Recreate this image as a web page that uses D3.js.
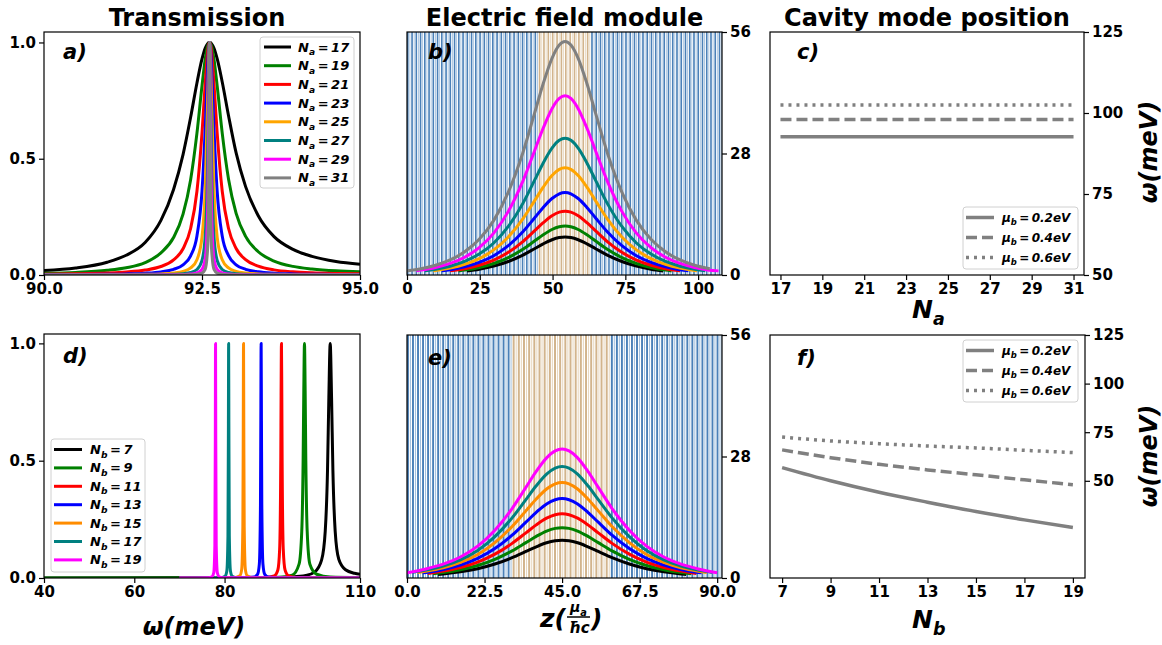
<!DOCTYPE html>
<html><head><meta charset="utf-8">
<script src="https://cdn.jsdelivr.net/npm/d3@7"></script>
<style>
body{margin:0;background:#fff;}
svg text{font-family:"DejaVu Sans",sans-serif;font-weight:bold;fill:#000;}
</style></head><body>
<svg id="chart" width="1162" height="645"></svg>
<script>
// ---------------- DATA ----------------
const colorsA = ["black","green","red","blue","orange","teal","magenta","gray"];
const naValues = [17,19,21,23,25,27,29,31];
const omegaA = [90,90.5,91,91.3,91.6,91.85,92.05,92.2,92.32,92.42,92.5,92.55,92.59,92.605,92.62,92.635,92.65,92.69,92.74,92.82,92.92,93.04,93.19,93.39,93.64,93.94,94.24,94.62,95];
const transNa17 = [0.019,0.030,0.055,0.085,0.14,0.235,0.368,0.518,0.678,0.826,0.929,0.975,0.995,0.999,1.0,0.999,0.995,0.975,0.93,0.83,0.685,0.525,0.38,0.255,0.165,0.11,0.08,0.058,0.046];
const transNa19 = [0.007,0.011,0.02,0.031,0.053,0.0953,0.161,0.262,0.41,0.61,0.813,0.927,0.986,0.996,1.0,0.996,0.986,0.927,0.813,0.61,0.412,0.265,0.166,0.1,0.06,0.037,0.026,0.018,0.014];
const transNa21 = [0.003,0.005,0.0085,0.0128,0.0212,0.0365,0.0648,0.113,0.2,0.36,0.61,0.821,0.962,0.99,1.0,0.99,0.962,0.821,0.61,0.36,0.2,0.114,0.066,0.038,0.022,0.0135,0.0092,0.0065,0.005];
const transNa23 = [0.0012,0.0018,0.0031,0.0046,0.0077,0.0135,0.0243,0.0439,0.0826,0.168,0.36,0.623,0.90,0.973,1.0,0.973,0.90,0.623,0.36,0.168,0.083,0.044,0.0245,0.0137,0.0078,0.0047,0.0032,0.0021,0.0014];
const transNa25 = [0.0004,0.0006,0.0011,0.0016,0.0027,0.0047,0.0086,0.0157,0.0303,0.0657,0.163,0.364,0.758,0.926,1.0,0.926,0.758,0.364,0.163,0.0657,0.0303,0.0157,0.0086,0.0047,0.0027,0.0016,0.0011,0.0007,0.0005];
const transNa27 = [0.0001,0.0002,0.0004,0.0006,0.0009,0.0016,0.003,0.0054,0.0106,0.0235,0.0626,0.164,0.516,0.81,1.0,0.81,0.516,0.164,0.0626,0.0235,0.0106,0.0054,0.003,0.0016,0.0009,0.0006,0.0004,0.0003,0.0002];
const transNa29 = [0.0001,0.0001,0.0001,0.0002,0.0003,0.0006,0.0011,0.002,0.004,0.0089,0.0245,0.0686,0.286,0.616,1.0,0.616,0.286,0.0686,0.0245,0.0089,0.004,0.002,0.0011,0.0006,0.0003,0.0002,0.0001,0.0001,0.0001];
const transNa31 = [0,0,0,0.0001,0.0001,0.0002,0.0004,0.0007,0.0013,0.003,0.0083,0.024,0.118,0.35,1.0,0.35,0.118,0.024,0.0083,0.003,0.0013,0.0007,0.0004,0.0002,0.0001,0.0001,0,0,0];
const ticksAx = [90.0,92.5,95.0];
const ticksAy = [0.0,0.5,1.0];

// panel b: |E| vs z for each Na  ([z, |E|])
const fieldNa17 = [[20.6,0.93],[24.8,1.34],[29.8,2.05],[34.8,3.11],[39.8,4.59],[43.8,6.06],[46.8,7.18],[49.8,8.12],[52.3,8.62],[54.3,8.75],[56.3,8.62],[58.8,8.12],[61.8,7.18],[64.8,6.06],[68.8,4.59],[73.8,3.11],[78.8,2.05],[83.8,1.34],[88.0,0.93]];
const fieldNa19 = [[17.7,0.94],[19.8,1.12],[24.8,1.73],[29.8,2.64],[34.8,4.01],[39.8,5.92],[43.8,7.82],[46.8,9.27],[49.8,10.49],[52.3,11.13],[54.3,11.3],[56.3,11.13],[58.8,10.49],[61.8,9.27],[64.8,7.82],[68.8,5.92],[73.8,4.01],[78.8,2.64],[83.8,1.73],[88.8,1.12],[90.9,0.94]];
const fieldNa21 = [[14.8,0.95],[19.8,1.46],[24.8,2.25],[29.8,3.44],[34.8,5.22],[39.8,7.70],[43.8,10.17],[46.8,12.05],[49.8,13.64],[52.3,14.48],[54.3,14.7],[56.3,14.48],[58.8,13.64],[61.8,12.05],[64.8,10.17],[68.8,7.70],[73.8,5.22],[78.8,3.44],[83.8,2.25],[88.8,1.46],[93.8,0.95]];
const fieldNa23 = [[11.9,0.95],[14.8,1.22],[19.8,1.89],[24.8,2.91],[29.8,4.45],[34.8,6.75],[39.8,9.96],[43.8,13.15],[46.8,15.58],[49.8,17.63],[52.3,18.72],[54.3,19.0],[56.3,18.72],[58.8,17.63],[61.8,15.58],[64.8,13.15],[68.8,9.96],[73.8,6.75],[78.8,4.45],[83.8,2.91],[88.8,1.89],[93.8,1.22],[96.7,0.95]];
const fieldNa25 = [[9.0,0.96],[9.8,1.03],[14.8,1.59],[19.8,2.45],[24.8,3.78],[29.8,5.78],[34.8,8.77],[39.8,12.94],[43.8,17.09],[46.8,20.25],[49.8,22.92],[52.3,24.33],[54.3,24.7],[56.3,24.33],[58.8,22.92],[61.8,20.25],[64.8,17.09],[68.8,12.94],[73.8,8.77],[78.8,5.78],[83.8,3.78],[88.8,2.45],[93.8,1.59],[98.8,1.03],[99.6,0.96]];
const fieldNa27 = [[6.1,0.95],[9.8,1.31],[14.8,2.03],[19.8,3.13],[24.8,4.82],[29.8,7.37],[34.8,11.18],[39.8,16.51],[43.8,21.80],[46.8,25.83],[49.8,29.23],[52.3,31.03],[54.3,31.5],[56.3,31.03],[58.8,29.23],[61.8,25.83],[64.8,21.80],[68.8,16.51],[73.8,11.18],[78.8,7.37],[83.8,4.82],[88.8,3.13],[93.8,2.03],[98.8,1.31],[102.5,0.95]];
const fieldNa29 = [[3.2,0.97],[4.8,1.12],[9.8,1.72],[14.8,2.66],[19.8,4.10],[24.8,6.32],[29.8,9.66],[34.8,14.66],[39.8,21.64],[43.8,28.58],[46.8,33.87],[49.8,38.33],[52.3,40.68],[54.3,41.3],[56.3,40.68],[58.8,38.33],[61.8,33.87],[64.8,28.58],[68.8,21.64],[73.8,14.66],[78.8,9.66],[83.8,6.32],[88.8,4.10],[93.8,2.66],[98.8,1.72],[103.8,1.12],[107,0.95]];
const fieldNa31 = [[0,0.96],[4.8,1.45],[9.8,2.24],[14.8,3.46],[19.8,5.34],[24.8,8.23],[29.8,12.59],[34.8,19.10],[39.8,28.19],[43.8,37.23],[46.8,44.12],[49.8,49.93],[52.3,52.99],[54.3,53.8],[56.3,52.99],[58.8,49.93],[61.8,44.12],[64.8,37.23],[68.8,28.19],[73.8,19.10],[78.8,12.59],[83.8,8.23],[88.8,5.34],[93.8,3.46],[98.8,2.24],[104,1.45]];
const ticksBx = [0,25,50,75,100];
const ticksBy = [0,28,56];
// layered structure drawn behind b and e (number of periods, period length)
const bMirrorPeriods = 31, bCavityPeriods = 12;
const eMirrorPeriods = 21, eCavityPeriods = 19;
const mirrorPeriod = 1.46, cavityPeriod = 1.5;

// panel c: cavity mode position vs Na
const naTicks = [17,19,21,23,25,27,29,31];
const modeNaMu02 = [92.7,92.7,92.7,92.7,92.7,92.7,92.7,92.7];
const modeNaMu04 = [98.0,98.0,98.0,98.0,98.0,98.0,98.0,98.0];
const modeNaMu06 = [102.5,102.5,102.5,102.5,102.5,102.5,102.5,102.5];
const ticksCy = [50,75,100,125];
const muLabels = ["0.2eV","0.4eV","0.6eV"];

// panel d: transmission vs omega for each Nb ([omega, T])
const colorsD = ["black","green","red","blue","darkorange","teal","magenta"];
const nbValues = [7,9,11,13,15,17,19];
const transNb7 = [[40,0],[90,0.002],[95,0.0045],[98,0.0105],[100,0.026],[101.5,0.077],[102.3,0.2],[102.8,0.457],[103.1,0.77],[103.4,1.0],[103.7,0.77],[104.0,0.457],[104.5,0.2],[105.3,0.08],[106.8,0.035],[108.8,0.02],[110,0.016]];
const transNb9 = [[40,0],[85,0.001],[92,0.0028],[95,0.0122],[96.5,0.059],[97.1,0.2],[97.4,0.5],[97.55,0.8],[97.7,1.0],[97.85,0.8],[98.0,0.5],[98.3,0.2],[98.9,0.059],[100.4,0.016],[103.4,0.004],[110,0.002]];
const transNb11 = [[70,0],[85,0.0004],[89,0.0017],[91,0.0087],[91.8,0.034],[92.2,0.123],[92.45,0.5],[92.52,0.78],[92.6,1.0],[92.68,0.78],[92.75,0.5],[93.0,0.123],[93.4,0.034],[94.2,0.0087],[96.2,0.0017],[110,0]];
const transNb13 = [[70,0],[84,0.0006],[86.5,0.0039],[87.3,0.0154],[87.7,0.059],[87.95,0.31],[88.03,0.67],[88.1,1.0],[88.17,0.67],[88.25,0.31],[88.5,0.059],[88.9,0.0154],[89.7,0.0039],[92,0.0006],[110,0]];
const transNb15 = [[70,0],[82,0.0013],[83.4,0.0099],[83.8,0.038],[84.05,0.22],[84.14,0.64],[84.2,1.0],[84.26,0.64],[84.35,0.22],[84.6,0.038],[85.0,0.0099],[86.4,0.0013],[110,0]];
const transNb17 = [[70,0],[79,0.0014],[80.1,0.0076],[80.5,0.030],[80.75,0.179],[80.85,0.66],[80.9,1.0],[80.95,0.66],[81.05,0.179],[81.3,0.030],[81.7,0.0076],[82.8,0.0014],[110,0]];
const transNb19 = [[70,0],[76.5,0.0016],[77.2,0.0056],[77.6,0.022],[77.85,0.138],[77.95,0.59],[78.0,1.0],[78.05,0.59],[78.15,0.138],[78.4,0.022],[78.8,0.0056],[79.5,0.0016],[110,0]];
const ticksDx = [40,60,80,110];

// panel e: |E| vs z for each Nb ([z, |E|])
const fieldNb7 = [[9,0.82],[10.5,0.93],[15.5,1.42],[20.5,2.15],[25.5,3.23],[30.5,4.69],[34.5,6.12],[37.5,7.19],[40.5,8.11],[43,8.58],[45,8.7],[47,8.58],[49.5,8.11],[52.5,7.19],[55.5,6.12],[59.5,4.69],[64.5,3.23],[69.5,2.15],[74.5,1.42],[79.5,0.93],[81,0.82]];
const fieldNb9 = [[7.5,0.97],[10.5,1.24],[15.5,1.89],[20.5,2.87],[25.5,4.30],[30.5,6.25],[34.5,8.15],[37.5,9.59],[40.5,10.81],[43,11.44],[45,11.6],[47,11.44],[49.5,10.81],[52.5,9.59],[55.5,8.15],[59.5,6.25],[64.5,4.30],[69.5,2.87],[74.5,1.89],[79.5,1.24],[82.5,0.97]];
const fieldNb11 = [[6,1.05],[10.5,1.58],[15.5,2.41],[20.5,3.66],[25.5,5.49],[30.5,7.98],[34.5,10.40],[37.5,12.24],[40.5,13.79],[43,14.59],[45,14.8],[47,14.59],[49.5,13.79],[52.5,12.24],[55.5,10.40],[59.5,7.98],[64.5,5.49],[69.5,3.66],[74.5,2.41],[79.5,1.58],[84,1.05]];
const fieldNb13 = [[4.5,1.18],[5.5,1.29],[10.5,1.96],[15.5,2.98],[20.5,4.52],[25.5,6.79],[30.5,9.86],[34.5,12.86],[37.5,15.13],[40.5,17.06],[43,18.04],[45,18.3],[47,18.04],[49.5,17.06],[52.5,15.13],[55.5,12.86],[59.5,9.86],[64.5,6.79],[69.5,4.52],[74.5,2.98],[79.5,1.96],[84.5,1.29],[85.5,1.18]];
const fieldNb15 = [[3,1.25],[5.5,1.55],[10.5,2.35],[15.5,3.59],[20.5,5.43],[25.5,8.16],[30.5,11.86],[34.5,15.47],[37.5,18.19],[40.5,20.50],[43,21.69],[45,22.0],[47,21.69],[49.5,20.50],[52.5,18.19],[55.5,15.47],[59.5,11.86],[64.5,8.16],[69.5,5.43],[74.5,3.59],[79.5,2.35],[84.5,1.55],[87,1.25]];
const fieldNb17 = [[1.5,1.29],[5.5,1.81],[10.5,2.75],[15.5,4.19],[20.5,6.35],[25.5,9.53],[30.5,13.85],[34.5,18.07],[37.5,21.25],[40.5,23.95],[43,25.34],[45,25.7],[47,25.34],[49.5,23.95],[52.5,21.25],[55.5,18.07],[59.5,13.85],[64.5,9.53],[69.5,6.35],[74.5,4.19],[79.5,2.75],[84.5,1.81],[88.5,1.29]];
const fieldNb19 = [[0,1.2],[5.5,2.09],[10.5,3.18],[15.5,4.84],[20.5,7.34],[25.5,11.02],[30.5,16.01],[34.5,20.88],[37.5,24.56],[40.5,27.68],[43,29.28],[45,29.7],[47,29.28],[49.5,27.68],[52.5,24.56],[55.5,20.88],[59.5,16.01],[64.5,11.02],[69.5,7.34],[74.5,4.84],[79.5,3.18],[84.5,2.09],[90,1.2]];
const ticksEx = [0.0,22.5,45.0,67.5,90.0];
const ticksEy = [0,28,56];

// panel f: cavity mode position vs Nb
const nbTicks = [7,9,11,13,15,17,19];
const modeNbMu02 = [56.8,50.0,44.1,39.0,34.2,29.9,26.0];
const modeNbMu04 = [65.9,61.9,58.5,55.6,53.1,50.5,48.0];
const modeNbMu06 = [72.5,70.5,69.1,67.9,66.9,65.7,64.5];
const ticksFy = [50,75,100,125];

// ---------------- DRAWING ----------------
const svg = d3.select("#chart");
const defs = svg.append("defs");
let clipCount = 0;
function makePanel(x0,x1,y0,y1,xd,yd){
  const x = d3.scaleLinear().domain(xd).range([x0,x1]);
  const y = d3.scaleLinear().domain(yd).range([y1,y0]);
  const id = "clip"+(clipCount++);
  defs.append("clipPath").attr("id",id).append("rect")
    .attr("x",x0).attr("y",y0).attr("width",x1-x0).attr("height",y1-y0);
  const g = svg.append("g");
  const plot = g.append("g").attr("clip-path",`url(#${id})`);
  return {x,y,g,plot,x0,x1,y0,y1};
}
function frame(p){
  p.g.append("rect").attr("x",p.x0).attr("y",p.y0).attr("width",p.x1-p.x0).attr("height",p.y1-p.y0)
    .attr("fill","none").attr("stroke","#000").attr("stroke-width",1.2);
}
function styleAxis(a){
  a.select(".domain").remove();
  a.selectAll(".tick line").attr("stroke","#000").attr("stroke-width",1.2);
  a.selectAll(".tick text").style("font-size","15px").style("font-weight","bold").attr("fill","#000");
}
function bottomAxis(p,ticks,fmt){
  const a = p.g.append("g").attr("transform",`translate(0,${p.y1})`)
    .call(d3.axisBottom(p.x).tickValues(ticks).tickFormat(fmt).tickSize(5).tickPadding(3));
  styleAxis(a);
}
function leftAxis(p,ticks,fmt){
  const a = p.g.append("g").attr("transform",`translate(${p.x0},0)`)
    .call(d3.axisLeft(p.y).tickValues(ticks).tickFormat(fmt).tickSize(5).tickPadding(3));
  styleAxis(a);
}
function rightAxis(p,ticks,fmt){
  const a = p.g.append("g").attr("transform",`translate(${p.x1},0)`)
    .call(d3.axisRight(p.y).tickValues(ticks).tickFormat(fmt).tickSize(5).tickPadding(3));
  styleAxis(a);
}
function drawLines(p,series,colors,width){
  const line = d3.line().x(d=>p.x(d[0])).y(d=>p.y(d[1])).curve(d3.curveMonotoneX);
  p.plot.selectAll(null).data(series).join("path")
    .attr("d",line).attr("fill","none").attr("stroke",(d,i)=>colors[i])
    .attr("stroke-width",width).attr("stroke-linejoin","round");
}
function panelLabel(p,txt,dx,dy){
  p.g.append("text").attr("x",p.x0+dx).attr("y",p.y0+dy).text(txt)
    .style("font-size","21px").style("font-style","italic");
}
function title(p,txt,dx){
  svg.append("text").attr("x",(p.x0+p.x1)/2+(dx||0)).attr("y",p.y0-6).attr("text-anchor","middle")
    .text(txt).style("font-size","24px");
}
function subText(sel,main,sub,rest,size){
  const t = sel.style("font-size",size+"px").style("font-style","italic");
  t.append("tspan").text(main);
  t.append("tspan").text(sub).attr("dy",size*0.28).style("font-size",(size*0.7)+"px");
  if(rest) t.append("tspan").text(rest).attr("dy",-size*0.28);
  return t;
}
function stripes(p,mirrorN,cavityN){
  const layers=[]; let z=0;
  for(let i=0;i<mirrorN;i++){layers.push({z,w:mirrorPeriod,c:"m"}); z+=mirrorPeriod;}
  for(let i=0;i<cavityN;i++){layers.push({z,w:cavityPeriod,c:"c"}); z+=cavityPeriod;}
  for(let i=0;i<mirrorN+2;i++){layers.push({z,w:mirrorPeriod,c:"m"}); z+=mirrorPeriod;}
  const gS = p.plot.append("g");
  gS.selectAll(null).data(layers).join("rect")
    .attr("x",d=>p.x(d.z)).attr("width",d=>p.x(d.z+d.w*0.38)-p.x(d.z))
    .attr("y",p.y0).attr("height",p.y1-p.y0)
    .attr("fill",d=>d.c==="m"?"#4a80b8":"#d2b48c");
  gS.selectAll(null).data(layers).join("rect")
    .attr("x",d=>p.x(d.z+d.w*0.58)).attr("width",d=>p.x(d.z+d.w*0.78)-p.x(d.z+d.w*0.58))
    .attr("y",p.y0).attr("height",p.y1-p.y0)
    .attr("fill",d=>d.c==="m"?"#a3c0de":"#e8d8c0");
}

// ---- Panel a ----
const pa = makePanel(44,360,32,275,[90,95],[0,1.045]);
const seriesA = [transNa17,transNa19,transNa21,transNa23,transNa25,transNa27,transNa29,transNa31]
  .map(arr=>arr.map((v,i)=>[omegaA[i],v]));
drawLines(pa,seriesA,colorsA,3);
frame(pa);
bottomAxis(pa,ticksAx,d3.format(".1f"));
leftAxis(pa,ticksAy,d3.format(".1f"));
title(pa,"Transmission",-5);
panelLabel(pa,"a)",19,27);
{
  const lg = pa.g.append("g");
  lg.append("rect").attr("x",260).attr("y",37).attr("width",94).attr("height",151).attr("rx",3)
    .attr("fill","#fff").attr("fill-opacity",0.85).attr("stroke","#d0d0d0");
  naValues.forEach((n,i)=>{
    const yy = 47+i*18.7;
    lg.append("line").attr("x1",264).attr("x2",291).attr("y1",yy).attr("y2",yy)
      .attr("stroke",colorsA[i]).attr("stroke-width",3);
    subText(lg.append("text").attr("x",298).attr("y",yy+4.5),"N","a","\u2009=\u2009"+n,13);
  });
}

// ---- Panel b ----
const pb = makePanel(407,722,32,275,[0,108.2],[0,56]);
stripes(pb,bMirrorPeriods,bCavityPeriods);
drawLines(pb,[fieldNa17,fieldNa19,fieldNa21,fieldNa23,fieldNa25,fieldNa27,fieldNa29,fieldNa31],colorsA,3);
frame(pb);
bottomAxis(pb,ticksBx,d3.format("d"));
rightAxis(pb,ticksBy,d3.format("d"));
title(pb,"Electric field module");
panelLabel(pb,"b)",21,27);

// ---- Panel c ----
const pc = makePanel(770,1084,32,275,[16.5,31.5],[50,125]);
const dashes = [null,"11,5","3,5"];
const seriesC = [modeNaMu02,modeNaMu04,modeNaMu06].map(arr=>arr.map((v,i)=>[naTicks[i],v]));
{
  const line = d3.line().x(d=>pc.x(d[0])).y(d=>pc.y(d[1]));
  pc.plot.selectAll(null).data(seriesC).join("path").attr("d",line).attr("fill","none")
    .attr("stroke","gray").attr("stroke-width",3.5).attr("stroke-dasharray",(d,i)=>dashes[i]);
}
frame(pc);
bottomAxis(pc,naTicks,d3.format("d"));
rightAxis(pc,ticksCy,d3.format("d"));
title(pc,"Cavity mode position");
panelLabel(pc,"c)",27,27);
function muLegend(p,x,y){
  const lg = p.g.append("g");
  lg.append("rect").attr("x",x).attr("y",y).attr("width",115).attr("height",62).attr("rx",3)
    .attr("fill","#fff").attr("fill-opacity",0.85).attr("stroke","#d0d0d0");
  muLabels.forEach((m,i)=>{
    const yy = y+10.5+i*20;
    lg.append("line").attr("x1",x+3).attr("x2",x+31).attr("y1",yy).attr("y2",yy)
      .attr("stroke","gray").attr("stroke-width",3.5).attr("stroke-dasharray",dashes[i]);
    subText(lg.append("text").attr("x",x+39).attr("y",yy+4),"\u03bc","b","\u2009=\u2009"+m,12);
  });
}
muLegend(pc,963,207);
subText(svg.append("text").attr("x",912).attr("y",318),"N","a",null,25);
svg.append("text").attr("transform","translate(1157,152) rotate(-90)").attr("text-anchor","middle")
  .text("\u03c9(meV)").style("font-size","24px").style("font-style","italic");

// ---- Panel d ----
const pd = makePanel(44,360,334,578,[40,110],[0,1.04]);
drawLines(pd,[transNb7,transNb9,transNb11,transNb13,transNb15,transNb17,transNb19],colorsD,3);
frame(pd);
bottomAxis(pd,ticksDx,d3.format("d"));
leftAxis(pd,ticksAy,d3.format(".1f"));
panelLabel(pd,"d)",19,29);
{
  const lg = pd.g.append("g");
  lg.append("rect").attr("x",51).attr("y",439).attr("width",94).attr("height",133).attr("rx",3)
    .attr("fill","#fff").attr("fill-opacity",0.85).attr("stroke","#d0d0d0");
  nbValues.forEach((n,i)=>{
    const yy = 449.5+i*18.4;
    lg.append("line").attr("x1",54).attr("x2",82).attr("y1",yy).attr("y2",yy)
      .attr("stroke",colorsD[i]).attr("stroke-width",3);
    subText(lg.append("text").attr("x",90).attr("y",yy+4.5),"N","b","\u2009=\u2009"+n,13);
  });
}
svg.append("text").attr("x",(pd.x0+pd.x1)/2-8).attr("y",635).attr("text-anchor","middle")
  .text("\u03c9(meV)").style("font-size","24px").style("font-style","italic");

// ---- Panel e ----
const pe = makePanel(407,722,335,578,[0,91.4],[0,56]);
stripes(pe,eMirrorPeriods,eCavityPeriods);
drawLines(pe,[fieldNb7,fieldNb9,fieldNb11,fieldNb13,fieldNb15,fieldNb17,fieldNb19],colorsD,3);
frame(pe);
bottomAxis(pe,ticksEx,d3.format(".1f"));
rightAxis(pe,ticksEy,d3.format("d"));
panelLabel(pe,"e)",21,30);
{
  const g = svg.append("g").style("font-style","italic");
  g.append("text").attr("x",540).attr("y",627).text("z(").style("font-size","25px");
  subText(g.append("text").attr("x",570).attr("y",612),"\u03bc","a",null,14);
  g.append("line").attr("x1",567).attr("x2",590).attr("y1",617).attr("y2",617).attr("stroke","#000").attr("stroke-width",1.5);
  g.append("text").attr("x",569).attr("y",633).text("\u0127c").style("font-size","15px");
  g.append("text").attr("x",591).attr("y",627).text(")").style("font-size","25px");
}

// ---- Panel f ----
const pf = makePanel(770,1085,335,578,[6.5,19.5],[0,125]);
const seriesF = [modeNbMu02,modeNbMu04,modeNbMu06].map(arr=>arr.map((v,i)=>[nbTicks[i],v]));
{
  const line = d3.line().x(d=>pf.x(d[0])).y(d=>pf.y(d[1])).curve(d3.curveMonotoneX);
  pf.plot.selectAll(null).data(seriesF).join("path").attr("d",line).attr("fill","none")
    .attr("stroke","gray").attr("stroke-width",3.5).attr("stroke-dasharray",(d,i)=>dashes[i]);
}
frame(pf);
bottomAxis(pf,nbTicks,d3.format("d"));
rightAxis(pf,ticksFy,d3.format("d"));
panelLabel(pf,"f)",27,30);
muLegend(pf,963,340);
subText(svg.append("text").attr("x",912).attr("y",628),"N","b",null,25);
svg.append("text").attr("transform","translate(1157,456) rotate(-90)").attr("text-anchor","middle")
  .text("\u03c9(meV)").style("font-size","24px").style("font-style","italic");
</script>
</body></html>
